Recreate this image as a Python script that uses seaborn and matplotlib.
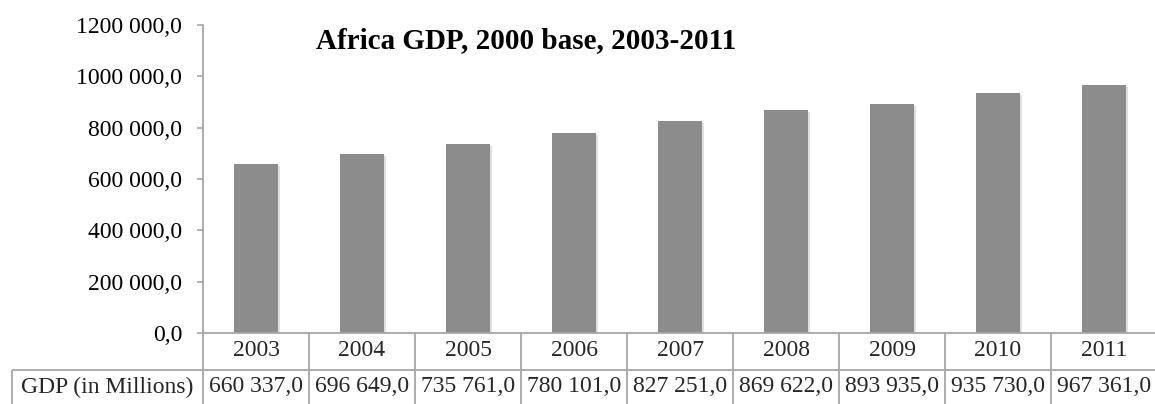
import matplotlib
matplotlib.use("Agg")
import matplotlib.pyplot as plt
import matplotlib.patheffects as pe
import matplotlib.transforms as mtransforms
import seaborn as sns
import pandas as pd

years = ["2003", "2004", "2005", "2006", "2007", "2008", "2009", "2010", "2011"]
gdp = [660337.0, 696649.0, 735761.0, 780101.0, 827251.0, 869622.0, 893935.0, 935730.0, 967361.0]
yticks = [0, 200000, 400000, 600000, 800000, 1000000, 1200000]
series_label = "GDP (in Millions)"
title = "Africa GDP, 2000 base, 2003-2011"

sns.set_theme(style="white")
plt.rcParams["font.family"] = ["Liberation Serif", "DejaVu Serif"]

BAR = "#8c8c8c"
LINE = "#a6a6a6"
FS = 17


def fmt(v):
    # "### ###,0": one group separator before the last three digits
    whole = int(round(v))
    frac = int(round((v - whole) * 10))
    if whole >= 1000:
        s = f"{whole // 1000} {whole % 1000:03d}"
    else:
        s = str(whole)
    return f"{s},{frac}"


df = pd.DataFrame({"year": years, "gdp": gdp})

W, H = 1155, 404
fig = plt.figure(figsize=(W / 100, H / 100), dpi=100)
left_px, right_px, bottom_px, top_px = 203, 1157, 333, 25
ax = fig.add_axes([left_px / W, (H - bottom_px) / H,
                   (right_px - left_px) / W, (bottom_px - top_px) / H])

sns.barplot(data=df, x="year", y="gdp", color=BAR, width=0.41, ax=ax,
            saturation=1, edgecolor="none")
for p in ax.patches:
    p.set_path_effects([pe.SimplePatchShadow(offset=(1.5, -1.5), shadow_rgbFace="#000000", alpha=0.12),
                        pe.Normal()])

ax.set_xlim(-0.5, len(years) - 0.5)
ax.set_ylim(0, 1200000)
ax.set_yticks(yticks)
ax.set_yticklabels([fmt(v) for v in yticks], fontsize=FS, color="black")
ax.tick_params(axis="y", length=4, width=1.2, color=LINE, pad=11, left=True)
ax.set_xticks([])
ax.set_xlabel("")
ax.set_ylabel("")
for side in ["top", "right"]:
    ax.spines[side].set_visible(False)
for side in ["left", "bottom"]:
    ax.spines[side].set_color(LINE)
    ax.spines[side].set_linewidth(1.3)

ax.text(0.339, 0.951, title, transform=ax.transAxes, ha="center", va="center",
        fontsize=21, fontweight="bold", color="black")

# data table beneath the axis
axh = bottom_px - top_px
row1 = (bottom_px - 369.5) / axh
row2 = (bottom_px - 406) / axh
trans = mtransforms.blended_transform_factory(ax.transData, ax.transAxes)
head_left = (12 - left_px) / (right_px - left_px)
lk = dict(color=LINE, lw=1.3, clip_on=False, solid_capstyle="butt")

for i in range(len(years) + 1):
    ax.plot([i - 0.5, i - 0.5], [0, row2], transform=trans, **lk)
ax.plot([head_left, 1], [row1, row1], transform=ax.transAxes, **lk)
ax.plot([head_left, 1], [row2, row2], transform=ax.transAxes, **lk)
ax.plot([head_left, head_left], [row1, row2], transform=ax.transAxes, **lk)

mid1 = (bottom_px - 351) / axh
mid2 = (bottom_px - 387) / axh
for i, (y, v) in enumerate(zip(years, gdp)):
    ax.text(i, mid1, y, transform=trans, ha="center", va="center", fontsize=FS)
    ax.text(i, mid2, fmt(v), transform=trans, ha="center", va="center", fontsize=FS)
ax.text(head_left / 2, mid2, series_label, transform=ax.transAxes,
        ha="center", va="center", fontsize=FS)

fig.savefig("out.png", dpi=100)
